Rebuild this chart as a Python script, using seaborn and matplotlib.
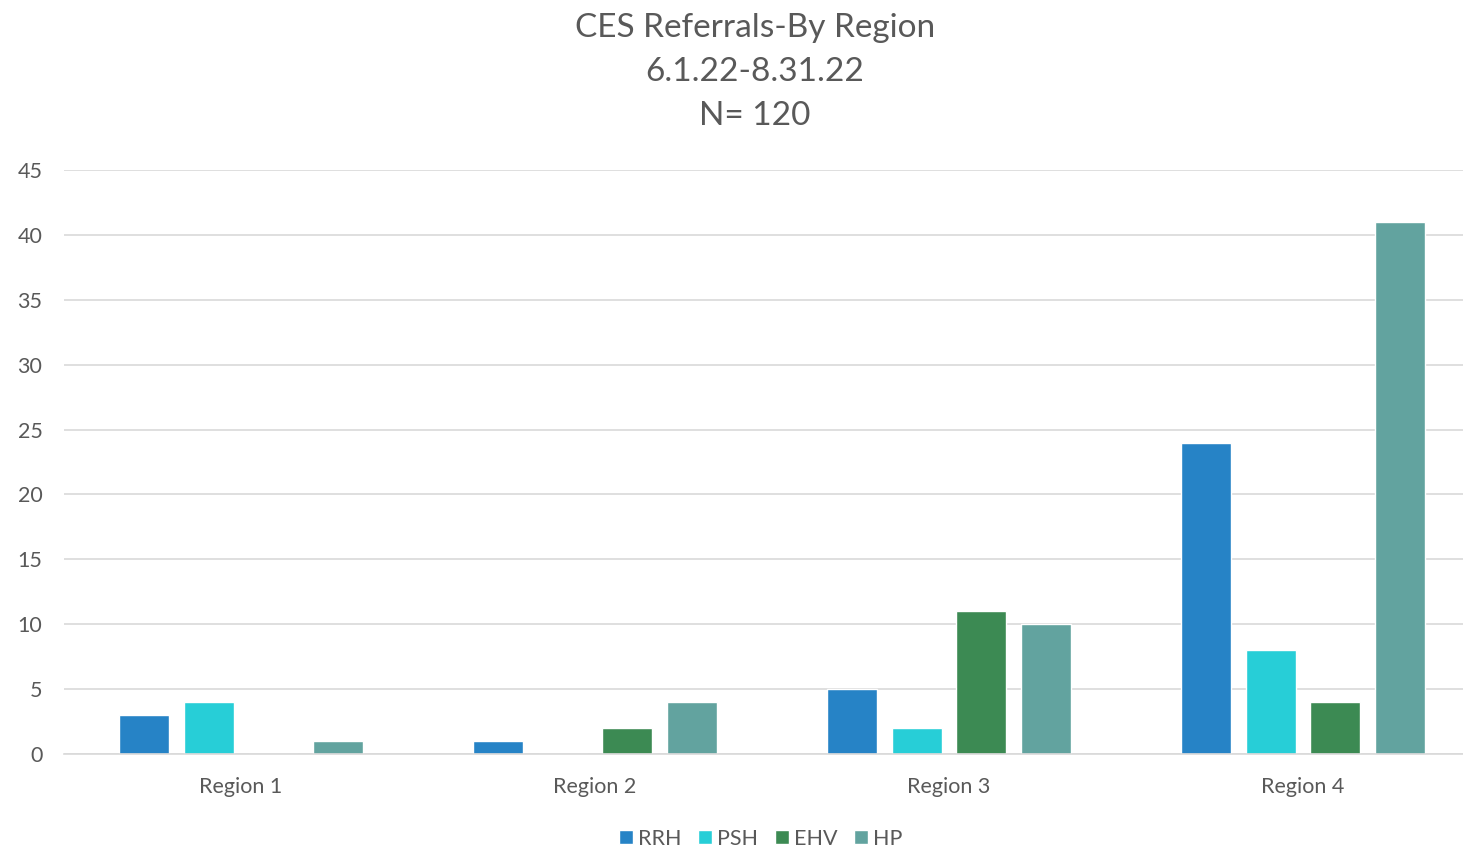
import matplotlib
matplotlib.use("Agg")
import matplotlib.pyplot as plt
import seaborn as sns
import pandas as pd

regions = ["Region 1", "Region 2", "Region 3", "Region 4"]
programs = ["RRH", "PSH", "EHV", "HP"]
rrh = [3, 1, 5, 24]
psh = [4, 0, 2, 8]
ehv = [0, 2, 11, 4]
hp = [1, 4, 10, 41]
colors = ["#2683C6", "#27CED7", "#3C8A53", "#62A39F"]

rows = []
for prog, vals in zip(programs, [rrh, psh, ehv, hp]):
    for reg, v in zip(regions, vals):
        rows.append({"Region": reg, "Program": prog, "Count": v})
df = pd.DataFrame(rows)

sns.set_style("white")
plt.rcParams["font.family"] = ["Lato", "DejaVu Sans"]

fig = plt.figure(figsize=(14.63, 8.47), dpi=100)
# axes run a bit past the right figure edge, as in the reference
ax = fig.add_axes([0.0437, 0.1098, 0.968, 0.6895])

sns.barplot(data=df, x="Region", y="Count", hue="Program", palette=colors,
            width=0.729, gap=0.225, ax=ax, saturation=1, errorbar=None)

ax.set_ylim(0, 45)
ax.set_yticks(range(0, 46, 5))
ax.yaxis.grid(True, color="#D9D9D9", linewidth=1.2)
ax.set_axisbelow(True)
for s in ["top", "right", "left"]:
    ax.spines[s].set_visible(False)
ax.spines["bottom"].set_color("#D9D9D9")
ax.spines["bottom"].set_linewidth(1.2)
ax.tick_params(axis="both", length=0, colors="#595959", labelsize=15.5)
ax.tick_params(axis="y", pad=15.5)
ax.tick_params(axis="x", pad=16.5)
ax.set_xlabel("")
ax.set_ylabel("")
ax.set_xlim(-0.5, 3.5)

fig.text(0.516, 0.985, "CES Referrals-By Region\n6.1.22-8.31.22\nN= 120",
         ha="center", va="top", fontsize=24, color="#595959", linespacing=1.59)

leg = ax.legend(loc="center", bbox_to_anchor=(0.52, 0.01),
                bbox_transform=fig.transFigure, ncol=4, borderpad=0,
                frameon=False, fontsize=15.5, handlelength=0.65, handleheight=0.65,
                handletextpad=0.25, columnspacing=0.75)
for t in leg.get_texts():
    t.set_color("#595959")

fig.savefig("out.png", dpi=100)
